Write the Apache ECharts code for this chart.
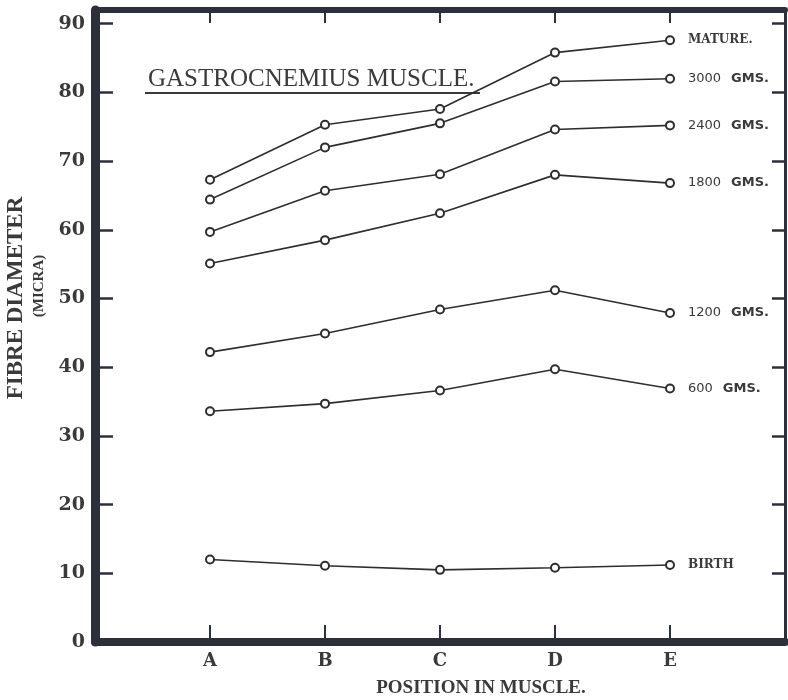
<!DOCTYPE html>
<html><head><meta charset="utf-8">
<script src="https://cdn.jsdelivr.net/npm/echarts@6/dist/echarts.min.js"></script>
<style>html,body{margin:0;padding:0;background:#fff}#c{width:788px;height:700px}</style>
</head><body><div id="c"></div><script>
const categories = ['A', 'B', 'C', 'D', 'E'];
const seriesNames = ['MATURE.', '3000 GMS.', '2400 GMS.', '1800 GMS.', '1200 GMS.', '600 GMS.', 'BIRTH'];
const mature = [67.3, 75.3, 77.6, 85.8, 87.6];
const g3000 = [64.4, 72.0, 75.5, 81.6, 82.0];
const g2400 = [59.7, 65.7, 68.1, 74.6, 75.2];
const g1800 = [55.1, 58.5, 62.4, 68.0, 66.8];
const g1200 = [42.2, 44.9, 48.4, 51.2, 47.9];
const g600 = [33.6, 34.7, 36.6, 39.7, 36.9];
const birth = [12.0, 11.1, 10.5, 10.8, 11.2];
const yTicks = [0, 10, 20, 30, 40, 50, 60, 70, 80, 90];
const title = 'GASTROCNEMIUS MUSCLE.';
const xTitle = 'POSITION IN MUSCLE.';
const yTitle = 'FIBRE DIAMETER';
const yUnit = '(MICRA)';

const allValues = [mature, g3000, g2400, g1800, g1200, g600, birth];
const catIdx = categories.map((c, i) => i);
const AX = '#2c303b';
const INK = '#2e2e2e';
const TXT = '#3a3a3a';

function labelText(name) {
  const m = name.match(/^(\d+)\s+(.*)$/);
  if (m) return '{n|' + m[1] + '}   {g|' + m[2] + '}';
  return '{w|' + name + '}';
}

const series = allValues.map((vals, s) => ({
  type: 'line',
  name: seriesNames[s],
  xAxisIndex: 0, yAxisIndex: 0,
  symbol: 'emptyCircle',
  symbolSize: 8,
  lineStyle: { color: INK, width: 1.6 },
  itemStyle: { color: INK, borderColor: INK, borderWidth: 1.2 },
  label: {
    show: false,
    position: 'right',
    distance: 13,
    formatter: () => labelText(seriesNames[s]),
    rich: {
      n: { fontFamily: 'DejaVu Sans', fontSize: 13, color: TXT },
      g: { fontFamily: 'DejaVu Sans', fontSize: 13, fontWeight: 'bold', color: TXT },
      w: { fontFamily: 'DejaVu Serif', fontSize: 12, fontWeight: 'bold', color: TXT }
    }
  },
  emphasis: { disabled: true },
  animation: false,
  data: vals.map((v, i) => i === vals.length - 1
    ? { value: [catIdx[i], v], label: { show: true } }
    : [catIdx[i], v])
}));

const baseGraphic = [
  { type: 'text', left: 148, top: 67, style: { text: title, font: '25px "Liberation Serif"', fill: TXT } },
  { type: 'line', shape: { x1: 145, y1: 93, x2: 480, y2: 93 }, style: { stroke: TXT, lineWidth: 2 } },
  { type: 'text', x: 481, y: 688, style: { text: xTitle, font: 'bold 19px "Liberation Serif"', fill: TXT, textAlign: 'center', textVerticalAlign: 'middle' } },
  { type: 'text', x: 16, y: 298, rotation: Math.PI / 2, style: { text: yTitle, font: 'bold 23px "Liberation Serif"', fill: TXT, textAlign: 'center', textVerticalAlign: 'middle' } },
  { type: 'text', x: 39, y: 286, rotation: Math.PI / 2, style: { text: yUnit, font: 'bold 15px "Liberation Serif"', fill: TXT, textAlign: 'center', textVerticalAlign: 'middle' } }
];

const chart = echarts.init(document.getElementById('c'), null, { renderer: 'canvas' });
chart.setOption({
  backgroundColor: '#ffffff',
  animation: false,
  grid: { left: 95, right: 3, top: 10, bottom: 58, outerBoundsMode: 'none' },
  xAxis: [{
    type: 'value', position: 'bottom', min: -1, max: 5,
    axisLine: { show: true, onZero: false, lineStyle: { color: AX, width: 8 } },
    axisTick: { show: true, inside: true, length: 17, customValues: catIdx, lineStyle: { color: AX, width: 2 } },
    axisLabel: { show: true, customValues: catIdx, margin: 10, formatter: v => categories[Math.round(v)] || '',
      fontFamily: 'DejaVu Serif', fontWeight: 'bold', fontSize: 18, color: TXT },
    splitLine: { show: false }
  }, {
    type: 'value', position: 'top', min: -1, max: 5,
    axisLine: { show: true, onZero: false, lineStyle: { color: AX, width: 6 } },
    axisTick: { show: false },
    axisLabel: { show: false },
    splitLine: { show: false }
  }],
  yAxis: [{
    type: 'value', position: 'left', min: 0, max: 92,
    axisLine: { show: true, onZero: false, lineStyle: { color: AX, width: 9 } },
    axisTick: { show: true, inside: true, length: 18, customValues: yTicks.slice(1), lineStyle: { color: AX, width: 2.5 } },
    axisLabel: { show: true, customValues: yTicks, margin: 10, formatter: v => String(v),
      fontFamily: 'DejaVu Serif', fontWeight: 'bold', fontSize: 19, color: TXT },
    splitLine: { show: false }
  }, {
    type: 'value', position: 'right', min: 0, max: 92,
    axisLine: { show: true, onZero: false, lineStyle: { color: AX, width: 3 } },
    axisTick: { show: true, inside: true, length: 13, customValues: yTicks.slice(1), lineStyle: { color: AX, width: 2.5 } },
    axisLabel: { show: false },
    splitLine: { show: false }
  }],
  graphic: baseGraphic,
  series: series
});

// Top-border tick marks at the category positions, placed through the axis scale
const topY = chart.convertToPixel({ yAxisIndex: 0 }, 92);
const topTicks = catIdx.map(i => {
  const x = chart.convertToPixel({ xAxisIndex: 0 }, i);
  return { type: 'line', shape: { x1: x, y1: topY - 2, x2: x, y2: topY + 13 }, style: { stroke: AX, lineWidth: 2 }, z: 10 };
});
chart.setOption({ graphic: baseGraphic.concat(topTicks) });
</script></body></html>
